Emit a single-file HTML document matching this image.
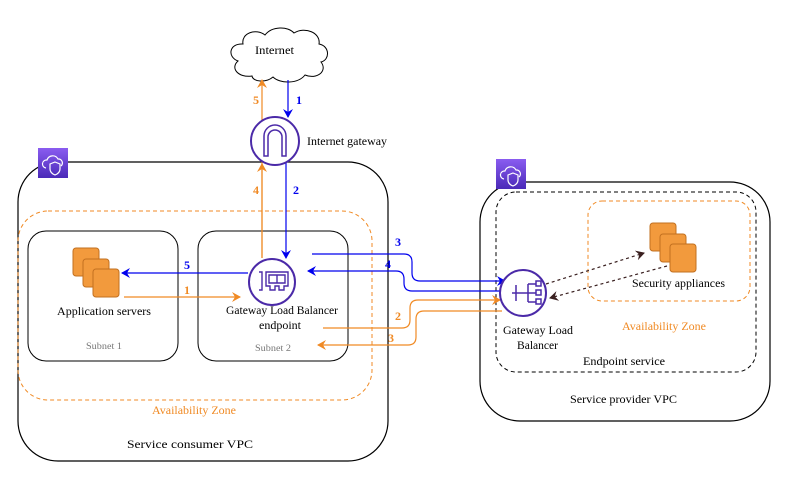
<!DOCTYPE html>
<html><head><style>body{margin:0;background:#fff}svg{display:block}text{font-family:"Liberation Serif","Times New Roman",serif}</style></head><body>
<svg width="805" height="477" viewBox="0 0 805 477" xmlns="http://www.w3.org/2000/svg" font-family="Liberation Serif, serif">
<defs>
<marker id="ab" markerWidth="10" markerHeight="10" refX="8" refY="5" orient="auto" markerUnits="userSpaceOnUse"><path d="M0,0 L9,5 L0,10 L3,5z" fill="#0000ee"/></marker>
<marker id="ao" markerWidth="10" markerHeight="10" refX="8" refY="5" orient="auto" markerUnits="userSpaceOnUse"><path d="M0,0 L9,5 L0,10 L3,5z" fill="#f08a24"/></marker>
<marker id="ak" markerWidth="10" markerHeight="10" refX="8" refY="5" orient="auto" markerUnits="userSpaceOnUse"><path d="M0,0 L9,5 L0,10 L3,5z" fill="#3a2020"/></marker>
<linearGradient id="pg" x1="0" y1="0" x2="0" y2="1"><stop offset="0" stop-color="#8a5cf0"/><stop offset="1" stop-color="#4a2ab8"/></linearGradient>
<g id="srv">
<rect x="0" y="0" width="26" height="28" rx="3" fill="#f29a3d" stroke="#c27020"/>
<rect x="10" y="11" width="26" height="28" rx="3" fill="#f29a3d" stroke="#c27020"/>
<rect x="20" y="21" width="26" height="28" rx="3" fill="#f29a3d" stroke="#c27020"/>
</g>
<g id="vpc"><rect width="30" height="30" fill="url(#pg)"/><path d="M8,20 a4,4 0 0 1 1,-8 a6,6 0 0 1 11,-1 a4,4 0 0 1 3,7" fill="none" stroke="#fff" stroke-width="1.2"/><path d="M17,14 l5,2 v5 q0,4 -5,6 q-5,-2 -5,-6 v-5z" fill="none" stroke="#fff" stroke-width="1.2"/></g>
</defs>

<rect x="18" y="162" width="370" height="299" rx="40" fill="none" stroke="#000" stroke-width="1.2"/>
<use href="#vpc" x="38" y="148"/>
<rect x="18" y="211" width="354" height="189" rx="30" fill="none" stroke="#f08a24" stroke-dasharray="4,3"/>
<rect x="28" y="231" width="150" height="130" rx="18" fill="#fff" stroke="#000"/>
<rect x="198" y="231" width="150" height="130" rx="18" fill="#fff" stroke="#000"/>
<g font-size="12">
<text x="127" y="448" textLength="126" lengthAdjust="spacingAndGlyphs">Service consumer VPC</text>
<text x="152" y="414" textLength="84" lengthAdjust="spacingAndGlyphs" fill="#f08a24">Availability Zone</text>
<text x="86" y="349" font-size="9" textLength="36" lengthAdjust="spacingAndGlyphs" fill="#777">Subnet 1</text>
<text x="255" y="351" font-size="9" textLength="36" lengthAdjust="spacingAndGlyphs" fill="#777">Subnet 2</text>
<text x="57" y="315" textLength="94" lengthAdjust="spacingAndGlyphs">Application servers</text>
<text x="226" y="314" textLength="112" lengthAdjust="spacingAndGlyphs">Gateway Load Balancer</text>
<text x="259" y="329" textLength="42" lengthAdjust="spacingAndGlyphs">endpoint</text>
<text x="570" y="403" textLength="107" lengthAdjust="spacingAndGlyphs">Service provider VPC</text>
<text x="583" y="365" textLength="82" lengthAdjust="spacingAndGlyphs">Endpoint service</text>
<text x="622" y="330" textLength="84" lengthAdjust="spacingAndGlyphs" fill="#f08a24">Availability Zone</text>
<text x="632" y="287" textLength="93" lengthAdjust="spacingAndGlyphs">Security appliances</text>
<text x="503" y="334" textLength="70" lengthAdjust="spacingAndGlyphs">Gateway Load</text>
<text x="517" y="349" textLength="41" lengthAdjust="spacingAndGlyphs">Balancer</text>
<text x="307" y="145" textLength="80" lengthAdjust="spacingAndGlyphs">Internet gateway</text>
</g>

<rect x="480" y="182" width="290" height="239" rx="40" fill="none" stroke="#000" stroke-width="1.2"/>
<use href="#vpc" x="496" y="159"/>
<rect x="496" y="192" width="260" height="180" rx="20" fill="none" stroke="#000" stroke-dasharray="4,3"/>
<rect x="588" y="201" width="162" height="100" rx="14" fill="none" stroke="#f08a24" stroke-dasharray="4,3"/>
<use href="#srv" x="650" y="223"/>
<use href="#srv" x="73" y="248"/>

<path d="M252,76 c-14,2 -22,-8 -14,-15 c-11,-4 -9,-18 5,-17 c-2,-11 13,-16 22,-9 c7,-9 23,-9 29,-2 c11,-7 27,0 25,11 c11,2 11,16 2,18 c7,9 -4,18 -16,13 c-7,9 -25,9 -32,2 c-7,6 -20,5 -21,-1z" fill="#fff" stroke="#000"/>
<text x="255" y="54" font-size="12" textLength="39" lengthAdjust="spacingAndGlyphs">Internet</text>

<path d="M262,258 V80" stroke="#f08a24" stroke-width="1.2" fill="none" marker-end="url(#ao)"/>
<path d="M288,80 V117" stroke="#0000ee" stroke-width="1.2" fill="none" marker-end="url(#ab)"/>
<path d="M286,162 V258" stroke="#0000ee" stroke-width="1.2" fill="none" marker-end="url(#ab)"/>
<circle cx="275" cy="141" r="24" fill="#fff" stroke="#4b2aa8" stroke-width="2"/>
<path d="M264,156 V136 a11,11 0 0 1 22,0 V156 h-4 V137 a7,7 0 0 0 -14,0 V156z" fill="none" stroke="#4b2aa8" stroke-width="1.5"/>
<path d="M262,164 V258" stroke="#f08a24" stroke-width="1.2" fill="none" marker-end="url(#ao)" transform="rotate(180 262 211)"/>

<path d="M248,273 H122" stroke="#0000ee" stroke-width="1.2" fill="none" marker-end="url(#ab)"/>
<path d="M124,297 H240" stroke="#f08a24" stroke-width="1.2" fill="none" marker-end="url(#ao)"/>

<path d="M312,254 H404 q8,0 8,8 V273 q0,8 8,8 H505" stroke="#0000ee" stroke-width="1.2" fill="none" marker-end="url(#ab)"/>
<path d="M508,291 H412 q-8,0 -8,-8 V279 q0,-8 -8,-8 H308" stroke="#0000ee" stroke-width="1.2" fill="none" marker-end="url(#ab)"/>
<path d="M323,328 H402 q8,0 8,-8 V308 q0,-8 8,-8 H500" stroke="#f08a24" stroke-width="1.2" fill="none" marker-end="url(#ao)"/>
<path d="M502,311 H424 q-8,0 -8,8 V337 q0,8 -8,8 H318" stroke="#f08a24" stroke-width="1.2" fill="none" marker-end="url(#ao)"/>
<path d="M546,284 L644,253" stroke="#3a2020" stroke-width="1.2" stroke-dasharray="3,3" fill="none" marker-end="url(#ak)"/>
<path d="M667,266 L550,298" stroke="#3a2020" stroke-width="1.2" stroke-dasharray="3,3" fill="none" marker-end="url(#ak)"/>

<circle cx="272" cy="282" r="23" fill="#fff" stroke="#4b2aa8" stroke-width="2"/>
<path d="M259,272 h3 v18 h-3 M266,272 h22 v14 h-4 v4 h-5 v-4 h-4 v4 h-5 v-4 h-4z M269,275 h16 v8 h-16z M277,275 v8" fill="none" stroke="#4b2aa8" stroke-width="1.4"/>
<circle cx="523" cy="293" r="23" fill="#fff" stroke="#4b2aa8" stroke-width="2"/>
<g stroke="#4b2aa8" stroke-width="1.5" fill="none"><path d="M512,293 h10 M516,285 v16 M522,293 h6 M528,284 v18 M528,284 h8 M528,293 h8 M528,302 h8"/><rect x="536" y="281" width="5" height="5"/><rect x="536" y="290" width="5" height="5"/><rect x="536" y="299" width="5" height="5"/></g>

<g font-size="12" font-weight="bold">
<text x="296" y="104" fill="#0000ee">1</text>
<text x="253" y="104" fill="#f08a24">5</text>
<text x="253" y="194" fill="#f08a24">4</text>
<text x="293" y="194" fill="#0000ee">2</text>
<text x="184" y="269" fill="#0000ee">5</text>
<text x="184" y="294" fill="#f08a24">1</text>
<text x="395" y="246" fill="#0000ee">3</text>
<text x="385" y="268" fill="#0000ee">4</text>
<text x="395" y="320" fill="#f08a24">2</text>
<text x="388" y="342" fill="#f08a24">3</text>
</g>
</svg>
</body></html>
